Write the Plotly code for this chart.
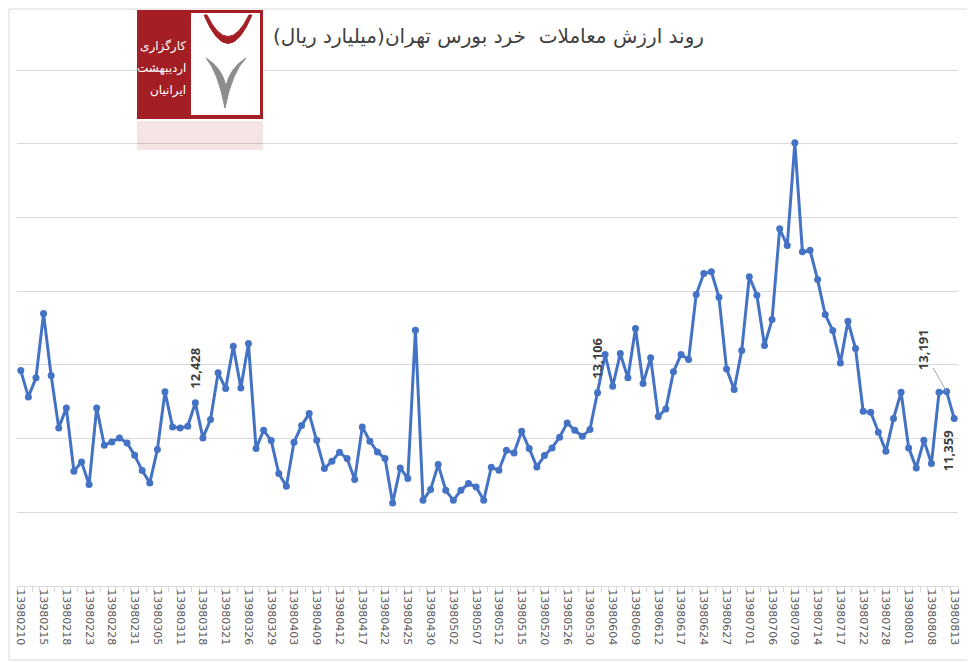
import plotly.graph_objects as go

# ارزش معاملات خرد (میلیارد ریال) - خوانده شده از نمودار
values = [
    14615, 12830, 14120, 18482, 14276, 10727, 12084, 7782, 8420, 6880,
    12084, 9547, 9777, 10049, 9709, 8868, 7830, 6995, 9255, 13170,
    10795, 10727, 10836, 12428, 10049, 11290, 14459, 13394, 16264, 13441,
    16447, 9323, 10564, 9865, 7626, 6765, 9750, 10883, 11697, 9886,
    7966, 8461, 9072, 8644, 7219, 10795, 9818, 9099, 8644, 5638,
    8013, 7287, 17349, 5815, 6541, 8237, 6493, 5815, 6493, 6948,
    6724, 5815, 8054, 7850, 9207, 9031, 10496, 9323, 8081, 8848,
    9370, 10089, 11066, 10564, 10157, 10612, 13106, 15700, 13550, 15768,
    14120, 17465, 13733, 15477, 11494, 12016, 14527, 15700, 15361, 19772,
    21196, 21312, 19588, 14730, 13326, 15972, 20972, 19724, 16311, 18075,
    24229, 23096, 30064, 22669, 22777, 20789, 18414, 17329, 15137, 17960,
    16108, 11853, 11786, 10429, 9139, 11358, 13142, 9370, 8013, 9886,
    8305, 13142, 13191, 11359,
]
# one label every third trading day
date_labels = [
    "13980210", "13980215", "13980218", "13980223", "13980228", "13980231",
    "13980305", "13980311", "13980318", "13980321", "13980326", "13980329",
    "13980403", "13980409", "13980412", "13980417", "13980422", "13980425",
    "13980430", "13980502", "13980507", "13980512", "13980515", "13980520",
    "13980526", "13980530", "13980604", "13980609", "13980612", "13980617",
    "13980624", "13980627", "13980701", "13980706", "13980709", "13980714",
    "13980717", "13980722", "13980728", "13980801", "13980808", "13980813",
]
labelled_points = [23, 76, 122, 123]

title = "روند ارزش معاملات  خرد بورس تهران(میلیارد ریال)"
logo_lines = ["کارگزاری", "اردیبهشت", "ایرانیان"]

# the page body has an 8px margin, so the figure is a bit smaller than the window
OFF = 8
FW, FH = 975 - OFF, 662 - OFF
ML, MR, MT, MB = 9, 17, 0, 76
PLOT_H = FH - MT - MB


def px(x):
    # page pixel -> paper x
    return (x - OFF - ML) / (FW - ML - MR)


def py(y):
    # page pixel -> paper y
    return (FH - MB - (y - OFF)) / PLOT_H


idx = list(range(len(values)))
fig = go.Figure()
fig.add_trace(go.Scatter(
    x=idx, y=values, mode="lines+markers",
    line=dict(color="#4472C4", width=3),
    marker=dict(color="#4472C4", size=7),
    showlegend=False,
))

grey = "#404040"
for i in labelled_points:
    txt = f"<b>{values[i]:,}</b>"
    if i in (23, 76):
        fig.add_annotation(x=i, y=values[i], text=txt, textangle=-90,
                           showarrow=False, yanchor="bottom", yshift=12,
                           font=dict(size=13, color=grey))
    elif i == 122:
        fig.add_annotation(x=i, y=values[i], text=txt, textangle=-90,
                           showarrow=True, arrowhead=0, arrowwidth=1,
                           arrowcolor="#a6a6a6", ax=-24, ay=-42,
                           font=dict(size=13, color=grey))
    else:
        fig.add_annotation(x=i, y=values[i], text=txt, textangle=-90,
                           showarrow=False, yanchor="top", yshift=-10, xshift=-6,
                           font=dict(size=13, color=grey))

# title
fig.add_annotation(xref="paper", yref="paper", x=px(706), y=py(36),
                   xanchor="right", yanchor="middle", showarrow=False,
                   text=title, font=dict(family="DejaVu Sans", size=20, color="#404040"))

# logo (rough sketch of the broker badge)
red = "#a31f24"
fig.add_shape(type="rect", xref="paper", yref="paper",
              x0=px(137), x1=px(263), y0=py(119), y1=py(10),
              fillcolor=red, line=dict(width=0), layer="above")
fig.add_shape(type="rect", xref="paper", yref="paper",
              x0=px(191), x1=px(260), y0=py(115), y1=py(13),
              fillcolor="white", line=dict(width=0), layer="above")
fig.add_shape(type="rect", xref="paper", yref="paper",
              x0=px(137), x1=px(263), y0=py(150), y1=py(121),
              fillcolor="rgba(163,31,36,0.12)", line=dict(width=0), layer="above")
crescent = (f"M {px(204)},{py(15)} Q {px(228)},{py(72)} {px(252)},{py(15)} "
            f"L {px(249)},{py(15)} Q {px(228)},{py(58)} {px(207)},{py(15)} Z")
fig.add_shape(type="path", xref="paper", yref="paper", path=crescent,
              fillcolor=red, line=dict(color=red, width=1), layer="above")
horns = (f"M {px(206)},{py(58)} Q {px(218)},{py(72)} {px(225)},{py(108)} "
         f"Q {px(232)},{py(72)} {px(246)},{py(58)} Q {px(230)},{py(68)} {px(226)},{py(86)} "
         f"Q {px(222)},{py(68)} {px(206)},{py(58)} Z")
fig.add_shape(type="path", xref="paper", yref="paper", path=horns,
              fillcolor="#8c8c8c", line=dict(color="#8c8c8c", width=1), layer="above")
for k, t in enumerate(logo_lines):
    fig.add_annotation(xref="paper", yref="paper", x=px(188), y=py(37 + k * 22),
                       xanchor="right", text=t, showarrow=False,
                       font=dict(family="DejaVu Sans", size=12, color="white"))

# chart border (right and bottom edges fall inside the window)
fig.add_shape(type="rect", xref="paper", yref="paper",
              x0=px(OFF + 1), x1=px(972), y0=py(660), y1=py(OFF + 1),
              line=dict(color="#d9d9d9", width=1), layer="below")

fig.update_layout(
    width=FW, height=FH,
    margin=dict(l=ML, r=MR, t=MT, b=MB),
    plot_bgcolor="white", paper_bgcolor="white",
    xaxis=dict(
        range=[-0.5, len(values) - 0.5], automargin=False,
        tickmode="array", tickvals=idx[::3], ticktext=date_labels,
        tickangle=90, tickfont=dict(family="DejaVu Sans", size=11, color="#595959"),
        showgrid=False, zeroline=False,
        showline=True, linecolor="#d9d9d9", linewidth=1,
        ticks="", ticklen=0,
        minor=dict(tick0=-0.5, dtick=1, ticks="outside", ticklen=5,
                   tickcolor="#d9d9d9", showgrid=False),
    ),
    yaxis=dict(
        range=[0, 5000 * PLOT_H / 73.7], automargin=False,
        dtick=5000, showticklabels=False, ticks="",
        showgrid=True, gridcolor="#d9d9d9", gridwidth=1, zeroline=False,
    ),
)

fig.write_html("out.html")
